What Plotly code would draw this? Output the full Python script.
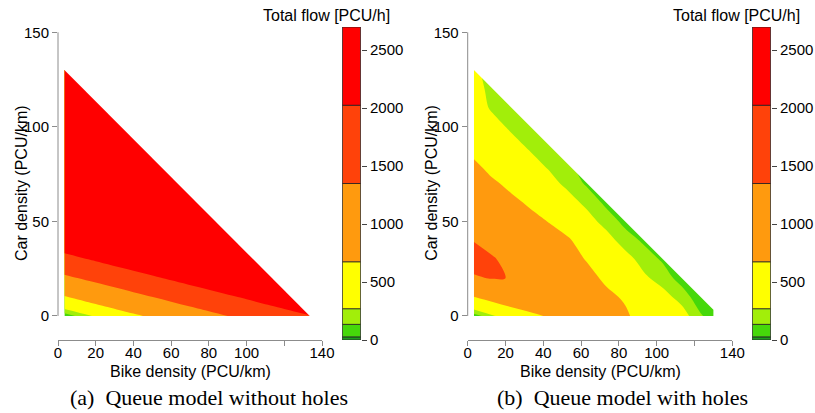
import plotly.graph_objects as go

W, H = 815, 413

# ---------------- data ----------------
# flow classes (PCU/h) and their colours
FLOW_BREAKS = [0, 27, 135, 270, 675, 1350, 2025, 2700]
BAND_COLORS = ["#1E9E1E", "#46D80A", "#A2EE0A", "#FFFF00", "#FF9A0E", "#FF420A", "#FF0000"]
FLOW_TICKS = [0, 500, 1000, 1500, 2000, 2500]

X_TICKS = [0, 20, 40, 60, 80, 100, 120, 140]
X_TICK_TEXT = ["0", "20", "40", "60", "80", "100", "", "140"]
Y_TICKS = [0, 50, 100, 150]

PANEL_TITLES = ["(a)\u2002Queue model without holes", "(b)\u2002Queue model with holes"]
X_TITLE = "Bike density (PCU/km)"
Y_TITLE = "Car density (PCU/km)"
CBAR_TITLE = "Total flow [PCU/h]"

# Panel (a): queue model without holes  (rows = car density, cols = bike density)
BIKE_A = [3.4, 10, 20, 40, 60, 80, 100, 120, 135]
CAR_A = [0, 2, 5, 10, 20, 30, 40, 60, 90, 130]
FLOW_A = [
    [50, 150, 300, 600, 900, 1200, 1500, 1800, 2020],
    [170, 265, 420, 720, 1020, 1320, 1620, 1920, 2145],
    [350, 450, 600, 900, 1200, 1500, 1800, 2100, 2325],
    [645, 745, 895, 1195, 1495, 1795, 2095, 2395, 2620],
    [1240, 1340, 1490, 1790, 2090, 2390, 2650, 2650, 2650],
    [1835, 1935, 2085, 2385, 2650, 2650, 2650, 2650, 2650],
    [2430, 2530, 2650, 2650, 2650, 2650, 2650, 2650, 2650],
    [2650, 2650, 2650, 2650, 2650, 2650, 2650, 2650, 2650],
    [2650, 2650, 2650, 2650, 2650, 2650, 2650, 2650, 2650],
    [2650, 2650, 2650, 2650, 2650, 2650, 2650, 2650, 2650],
]
# feasible domain: min bike density, max car density, max (bike+car), max bike
DOMAIN_A = [3.4, 130, 133.5, 133.5]

# Panel (b): queue model with holes (values inside the feasible triangle)
BIKE_B = [3.3, 13.3, 23.3, 33.3, 43.3, 53.3, 63.3, 73.3, 83.3, 93.3, 103.3, 113.3, 123.3, 133.3]
CAR_B = [0, 10, 20, 30, 40, 50, 60, 70, 80, 90, 100, 110, 120, 130]
FLOW_B_ROWS = [
    [60, 245, 405, 565, 730, 850, 880, 800, 720, 550, 430, 345, 150, 30],
    [663, 826, 993, 1120, 1050, 960, 850, 740, 640, 470, 330, 210, 45],
    [1310, 1370, 1340, 1150, 1000, 880, 760, 625, 470, 300, 205, 77],
    [1500, 1400, 1150, 1000, 900, 780, 655, 480, 335, 205, 115],
    [1335, 1120, 1000, 900, 790, 715, 480, 335, 200, 110],
    [1050, 1000, 900, 760, 662, 480, 330, 215, 95],
    [950, 880, 740, 630, 470, 330, 230, 100],
    [860, 720, 600, 460, 320, 230, 110],
    [722, 565, 440, 320, 245, 170],
    [560, 440, 320, 245, 180],
    [420, 320, 245, 180],
    [340, 250, 190],
    [360, 200],
    [400],
]
OUTSIDE_FLOW = 0  # jammed / infeasible
DOMAIN_B = [3.3, 130, 133.3, 130]

FLOW_B = [row + [OUTSIDE_FLOW] * (len(BIKE_B) - len(row)) for row in FLOW_B_ROWS]

# ---------------- geometry (pixels) ----------------
PANEL_X_PX = [(58, 322), (467.7, 732.3)]
CBAR_X_PX = [(342, 361), (752, 771)]
PLOT_TOP_PX, PLOT_BOTTOM_PX = 27, 340
Y_RANGE = [-12.7, 152.8]
X_RANGE = [0, 140]

SANS = "Liberation Sans, Arial, sans-serif"
SERIF = "Liberation Serif, Times New Roman, serif"
AXIS_GREY = "#8c8c8c"


def px_x(p):
    return p / W


def px_y(p):
    return (H - p) / H


Y_DOMAIN = [px_y(PLOT_BOTTOM_PX), px_y(PLOT_TOP_PX)]

fig = go.Figure()

low_scale = [[0, BAND_COLORS[1]], [1 / 3, BAND_COLORS[1]], [1 / 3, BAND_COLORS[2]],
             [2 / 3, BAND_COLORS[2]], [2 / 3, BAND_COLORS[3]], [1, BAND_COLORS[3]]]
clear = "rgba(255,255,255,0)"
high_scale = [[0, clear], [1 / 6, clear], [1 / 6, BAND_COLORS[4]], [0.5, BAND_COLORS[4]],
              [0.5, BAND_COLORS[5]], [5 / 6, BAND_COLORS[5]], [5 / 6, BAND_COLORS[6]], [1, BAND_COLORS[6]]]

panels = [(BIKE_A, CAR_A, FLOW_A, DOMAIN_A), (BIKE_B, CAR_B, FLOW_B, DOMAIN_B)]

for i, (bx, cy, fz, dom) in enumerate(panels):
    xa = "x" if i == 0 else "x3"
    ya = "y" if i == 0 else "y3"
    cxa = "x2" if i == 0 else "x4"
    cya = "y2" if i == 0 else "y4"
    # low classes (green / lime / yellow)
    fig.add_trace(go.Contour(
        x=bx, y=cy, z=fz, xaxis=xa, yaxis=ya, autocontour=False,
        contours=dict(start=FLOW_BREAKS[2], end=FLOW_BREAKS[3],
                      size=FLOW_BREAKS[3] - FLOW_BREAKS[2], coloring="fill", showlines=False),
        colorscale=low_scale, showscale=False, line=dict(width=0), hoverinfo="skip"))
    # high classes (orange / red-orange / red)
    fig.add_trace(go.Contour(
        x=bx, y=cy, z=fz, xaxis=xa, yaxis=ya, autocontour=False,
        contours=dict(start=FLOW_BREAKS[4], end=FLOW_BREAKS[6],
                      size=FLOW_BREAKS[5] - FLOW_BREAKS[4], coloring="fill", showlines=False),
        colorscale=high_scale, showscale=False, line=dict(width=0), hoverinfo="skip"))
    # blank out the infeasible region above the jam line
    x_min, top, s_max, x_max = dom
    fig.add_trace(go.Scatter(
        x=[x_min, x_min, 300, 300, x_max, x_max, x_min],
        y=[top, 300, 300, 0, 0, s_max - x_max, top],
        xaxis=xa, yaxis=ya, mode="lines", fill="toself", fillcolor="white",
        line=dict(width=0, color="white"), hoverinfo="skip", showlegend=False))
    # colour key as stacked class bars
    fig.add_trace(go.Bar(
        x=[0] * (len(FLOW_BREAKS) - 1),
        y=[FLOW_BREAKS[k + 1] - FLOW_BREAKS[k] for k in range(len(FLOW_BREAKS) - 1)],
        base=FLOW_BREAKS[:-1], width=1, xaxis=cxa, yaxis=cya,
        marker=dict(color=BAND_COLORS, line=dict(color="#222222", width=0.8)),
        hoverinfo="skip", showlegend=False))

layout = dict(
    width=W, height=H, margin=dict(l=0, r=0, t=0, b=0, pad=0, autoexpand=False),
    paper_bgcolor="white", plot_bgcolor="white", showlegend=False,
    barmode="overlay", font=dict(family=SANS, size=15, color="black"),
)

annotations = []
shapes = []
for i in range(2):
    xl, xr = PANEL_X_PX[i]
    cl, cr = CBAR_X_PX[i]
    main_x = "xaxis" if i == 0 else "xaxis3"
    main_y = "yaxis" if i == 0 else "yaxis3"
    cb_x = "xaxis2" if i == 0 else "xaxis4"
    cb_y = "yaxis2" if i == 0 else "yaxis4"
    ya_id = "y" if i == 0 else "y3"
    xa_id = "x" if i == 0 else "x3"
    cxa_id = "x2" if i == 0 else "x4"
    layout[main_x] = dict(
        domain=[px_x(xl), px_x(xr)], range=X_RANGE, anchor=ya_id,
        tickmode="array", tickvals=X_TICKS, ticktext=X_TICK_TEXT,
        ticks="outside", ticklen=5, tickcolor=AXIS_GREY, tickwidth=1, ticklabelstandoff=-6,
        showline=True, linecolor=AXIS_GREY, linewidth=1, automargin=False,
        showgrid=False, zeroline=False, tickfont=dict(size=15, family=SANS, color="black"))
    layout[main_y] = dict(
        domain=Y_DOMAIN, range=Y_RANGE, anchor=xa_id,
        tickmode="array", tickvals=Y_TICKS, ticks="outside", ticklen=5,
        tickcolor=AXIS_GREY, tickwidth=1, showline=False, automargin=False,
        showgrid=False, zeroline=False, tickfont=dict(size=15, family=SANS, color="black"))
    layout[cb_x] = dict(domain=[px_x(cl), px_x(cr)], range=[-0.52, 0.52],
                        visible=False, anchor="y2" if i == 0 else "y4")
    layout[cb_y] = dict(
        domain=Y_DOMAIN, range=[FLOW_BREAKS[0], FLOW_BREAKS[-1]], anchor=cxa_id, side="right",
        tickmode="array", tickvals=FLOW_TICKS, ticks="outside", ticklen=5, automargin=False,
        tickcolor="#444444", tickwidth=1, showline=False, showgrid=False, zeroline=False,
        tickfont=dict(size=15, family=SANS, color="black"))

    # y axis line spanning the tick range only (R style)
    shapes.append(dict(type="line", xref="paper", yref=ya_id,
                       x0=px_x(xl), x1=px_x(xl), y0=Y_TICKS[0], y1=Y_TICKS[-1],
                       line=dict(color=AXIS_GREY, width=1)))

    annotations.append(dict(text=X_TITLE, xref="paper", yref="paper",
                            x=px_x((xl + xr) / 2), y=px_y(371), xanchor="center", yanchor="middle",
                            showarrow=False, font=dict(size=16, family=SANS, color="black")))
    annotations.append(dict(text=Y_TITLE, xref="paper", yref="paper", textangle=-90,
                            x=px_x(xl - 36), y=px_y(183), xanchor="center", yanchor="middle",
                            showarrow=False, font=dict(size=16, family=SANS, color="black")))
    annotations.append(dict(text=CBAR_TITLE, xref="paper", yref="paper",
                            x=px_x(cr + 31), y=px_y(15), xanchor="right", yanchor="middle",
                            showarrow=False, font=dict(size=16, family=SANS, color="black")))
    annotations.append(dict(text=PANEL_TITLES[i], xref="paper", yref="paper",
                            x=px_x([209, 622][i]), y=px_y(397), xanchor="center", yanchor="middle",
                            showarrow=False, font=dict(size=22, family=SERIF, color="black")))

layout["annotations"] = annotations
layout["shapes"] = shapes
fig.update_layout(**layout)

# the page body gets no default margin, so the figure fills the window exactly
fig.write_html("out.html", config={"displayModeBar": False},
               post_script="document.body.style.margin='0';")
